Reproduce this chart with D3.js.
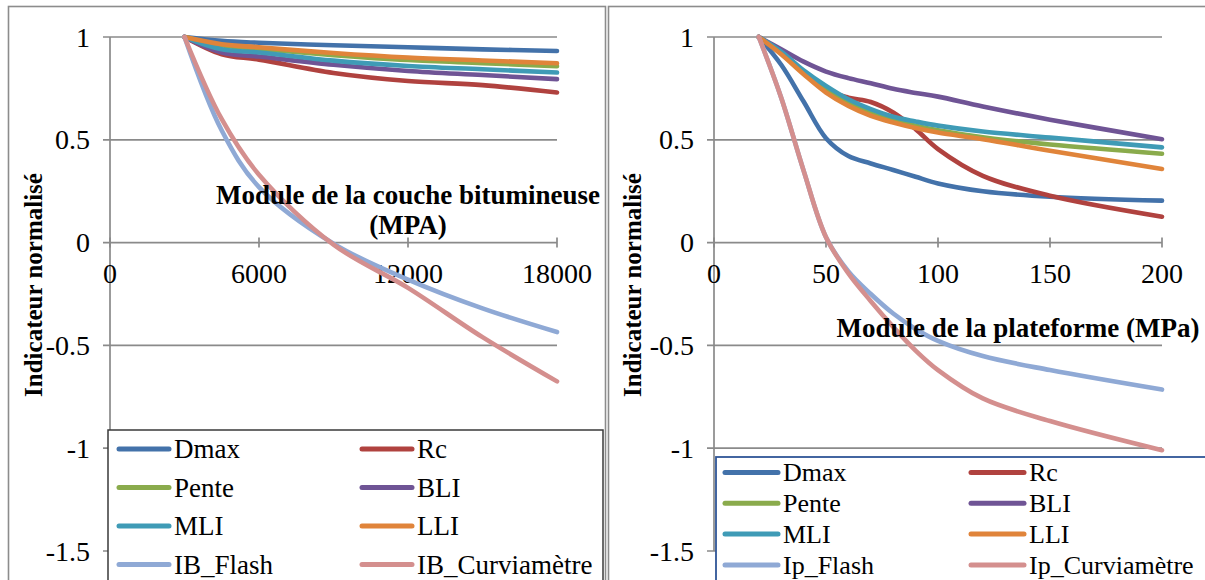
<!DOCTYPE html>
<html><head><meta charset="utf-8">
<script src="https://cdn.jsdelivr.net/npm/d3@7"></script>
<style>
body{margin:0;background:#fff;}
svg{display:block;}
text{font-family:"Liberation Serif","Times New Roman","DejaVu Serif",serif;fill:#000;}
</style>
</head><body>
<svg id="c" width="1205" height="580"></svg>
<script>
// ---------- data ----------
const seriesKeys = ["Dmax","Rc","Pente","BLI","MLI","LLI","Flash","Curv"];
const seriesColors = ["#4372aa","#b0423f","#8aab4c","#6f5495","#3f9bb6","#e0843a","#8fa9d5","#d48f8e"];
const leftLabels = ["Dmax","Rc","Pente","BLI","MLI","LLI","IB_Flash","IB_Curviamètre"];
const rightLabels = ["Dmax","Rc","Pente","BLI","MLI","LLI","Ip_Flash","Ip_Curviamètre"];
const yTicks = [1, 0.5, 0, -0.5, -1, -1.5];

// Left: module de la couche bitumineuse (MPa)
const leftX = [3000, 4500, 6000, 9000, 12000, 15000, 18000];
const leftDmax  = [1, 0.981, 0.972, 0.960, 0.950, 0.940, 0.932];
const leftRc    = [1, 0.916, 0.890, 0.825, 0.786, 0.766, 0.730];
const leftPente = [1, 0.960, 0.942, 0.912, 0.888, 0.873, 0.858];
const leftBLI   = [1, 0.924, 0.905, 0.865, 0.835, 0.815, 0.795];
const leftMLI   = [1, 0.940, 0.925, 0.885, 0.859, 0.843, 0.827];
const leftLLI   = [1, 0.965, 0.950, 0.922, 0.900, 0.886, 0.872];
const leftFlash = [1, 0.545, 0.270, -0.005, -0.180, -0.320, -0.435];
const leftCurv  = [1, 0.600, 0.330, -0.010, -0.220, -0.460, -0.675];
const leftXTicks = [0, 6000, 12000, 18000];

// Right: module de la plateforme (MPa)
const rightX = [20, 30, 40, 50, 60, 70, 80, 90, 100, 120, 150, 200];
const rightDmax  = [1, 0.865, 0.686, 0.508, 0.421, 0.385, 0.353, 0.320, 0.288, 0.250, 0.223, 0.204];
const rightRc    = [1, 0.920, 0.825, 0.742, 0.705, 0.684, 0.633, 0.552, 0.455, 0.325, 0.228, 0.126];
const rightPente = [1, 0.920, 0.828, 0.742, 0.678, 0.630, 0.596, 0.568, 0.546, 0.512, 0.477, 0.432];
const rightBLI   = [1, 0.940, 0.880, 0.832, 0.800, 0.775, 0.748, 0.728, 0.710, 0.662, 0.598, 0.503];
const rightMLI   = [1, 0.929, 0.838, 0.762, 0.697, 0.649, 0.612, 0.589, 0.569, 0.540, 0.511, 0.463];
const rightLLI   = [1, 0.916, 0.819, 0.730, 0.665, 0.617, 0.584, 0.557, 0.535, 0.503, 0.447, 0.358];
const rightFlash = [1, 0.705, 0.350, 0.026, -0.140, -0.250, -0.345, -0.420, -0.478, -0.552, -0.620, -0.715];
const rightCurv  = [1, 0.705, 0.350, 0.026, -0.150, -0.285, -0.410, -0.525, -0.620, -0.758, -0.868, -1.010];
const rightXTicks = [0, 50, 100, 150, 200];

const svg = d3.select("#c");
const yScale = d3.scaleLinear().domain([-1.5, 1]).range([551, 37]);
const gridColor = "#8a8a8a";
const serif = "Liberation Serif, Times New Roman, serif";

// panel borders
svg.append("rect").attr("x",8.5).attr("y",6.5).attr("width",597).attr("height",600)
  .attr("fill","none").attr("stroke","#8c8c8c").attr("stroke-width",1.6);
svg.append("rect").attr("x",608.5).attr("y",6.5).attr("width",620).attr("height",600)
  .attr("fill","none").attr("stroke","#8c8c8c").attr("stroke-width",1.6);

function panel(cfg){
  const g = svg.append("g").attr("font-family", serif);
  const x = d3.scaleLinear().domain(cfg.xDomain).range([cfg.x0, cfg.x1]);
  // gridlines
  g.selectAll(".grid").data(yTicks).join("line")
    .attr("x1", cfg.x0 - 7).attr("x2", cfg.x1)
    .attr("y1", d=>yScale(d)).attr("y2", d=>yScale(d))
    .attr("stroke", gridColor).attr("stroke-width", 1.7);
  // y axis line
  g.append("line").attr("x1",cfg.x0).attr("x2",cfg.x0).attr("y1",yScale(1)).attr("y2",yScale(-1.5))
    .attr("stroke", gridColor).attr("stroke-width",1.7);
  // y tick labels
  g.selectAll(".yl").data(yTicks).join("text")
    .attr("x", cfg.x0 - 20).attr("y", d=>yScale(d)).attr("dy","0.34em")
    .attr("text-anchor","end").attr("font-size",28)
    .text(d=>String(d));
  // x ticks on zero line
  g.selectAll(".xt").data(cfg.xTicks).join("line")
    .attr("x1", d=>x(d)).attr("x2", d=>x(d))
    .attr("y1", yScale(0)-5).attr("y2", yScale(0)+5)
    .attr("stroke", gridColor).attr("stroke-width",1.7);
  g.selectAll(".xl").data(cfg.xTicks).join("text")
    .attr("x", d=>x(d)).attr("y", 283)
    .attr("text-anchor","middle").attr("font-size",28)
    .text(d=>d);
  // y title
  g.append("text").attr("transform",`translate(${cfg.yTitleX},285) rotate(-90)`)
    .attr("text-anchor","middle").attr("dy","0.35em")
    .attr("font-size",25).attr("font-weight","bold").text("Indicateur normalisé");
  // series
  const line = d3.line().x(d=>x(d[0])).y(d=>yScale(d[1])).curve(d3.curveCatmullRom.alpha(0.5));
  cfg.series.forEach((vals,i)=>{
    const pts = cfg.xs.map((xv,j)=>[xv, vals[j]]);
    g.append("path").attr("d", line(pts)).attr("fill","none")
      .attr("stroke", seriesColors[i]).attr("stroke-width",4.6)
      .attr("stroke-linecap","round").attr("stroke-linejoin","round");
  });
  // x title
  cfg.title.forEach((t,k)=>{
    g.append("text").attr("x", cfg.titleX).attr("y", cfg.titleY + k*30)
      .attr("text-anchor","middle").attr("font-size",27).attr("font-weight","bold").text(t);
  });
  // legend
  const L = cfg.legend;
  g.append("rect").attr("x",L.x).attr("y",L.y).attr("width",L.w).attr("height",L.h)
    .attr("fill","#fff").attr("stroke",L.stroke).attr("stroke-width",L.sw);
  cfg.labels.forEach((lab,i)=>{
    const col = i % 2, row = Math.floor(i/2);
    const lx = col===0 ? L.c1 : L.c2;
    const ly = L.r0 + row*L.dr;
    g.append("line").attr("x1",lx).attr("x2",lx+L.len).attr("y1",ly).attr("y2",ly)
      .attr("stroke",seriesColors[i]).attr("stroke-width",5).attr("stroke-linecap","round");
    g.append("text").attr("x",lx+L.len+5).attr("y",ly).attr("dy","0.34em")
      .attr("font-size",L.fs).text(lab);
  });
}

panel({
  xDomain:[0,18000], x0:110, x1:557, xTicks:leftXTicks, xs:leftX,
  series:[leftDmax,leftRc,leftPente,leftBLI,leftMLI,leftLLI,leftFlash,leftCurv],
  labels:leftLabels, yTitleX:33,
  title:["Module de la couche bitumineuse","(MPA)"], titleX:408, titleY:204,
  legend:{x:108,y:430,w:495,h:170,stroke:"#3a3a3a",sw:1.5,c1:119,c2:362,len:50,r0:449,dr:38.5,fs:27}
});
panel({
  xDomain:[0,200], x0:714, x1:1162, xTicks:rightXTicks, xs:rightX,
  series:[rightDmax,rightRc,rightPente,rightBLI,rightMLI,rightLLI,rightFlash,rightCurv],
  labels:rightLabels, yTitleX:632,
  title:["Module de la plateforme (MPa)"], titleX:1018, titleY:337,
  legend:{x:716,y:457,w:510,h:140,stroke:"#2f5597",sw:1.8,c1:725,c2:971,len:53,r0:472.5,dr:30.8,fs:26}
});
</script>
</body></html>
